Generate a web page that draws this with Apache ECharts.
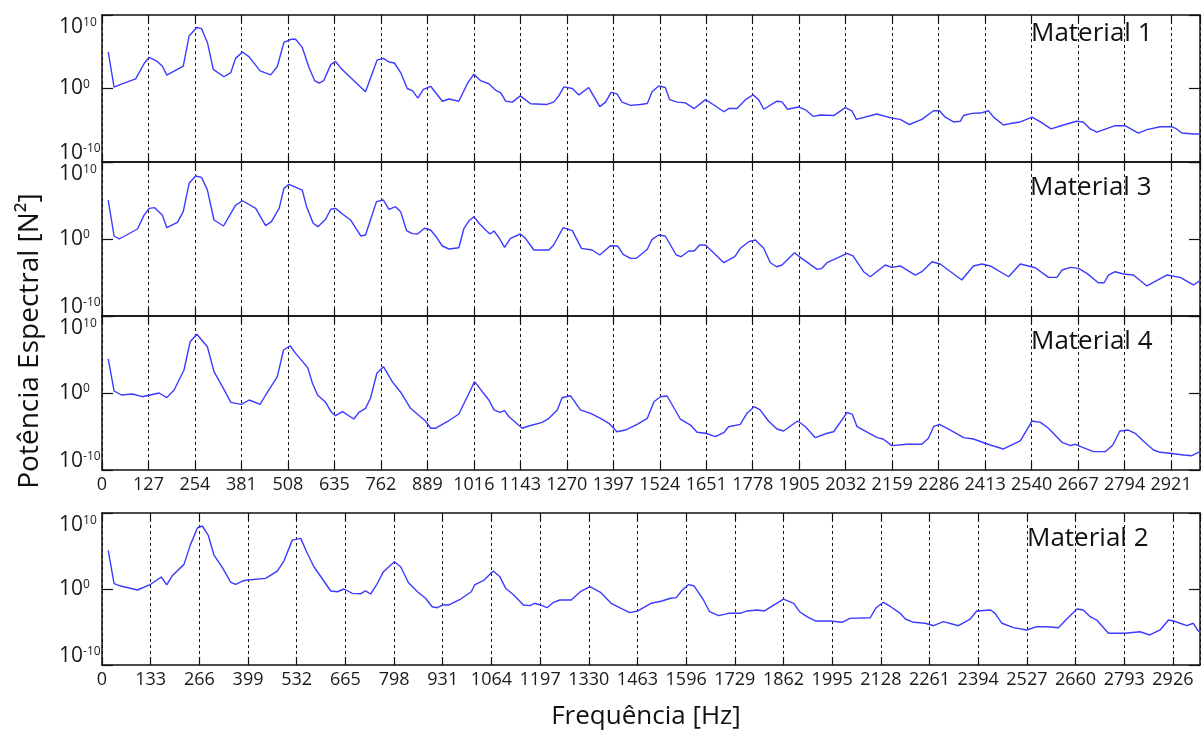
<!DOCTYPE html>
<html>
<head>
<meta charset="utf-8">
<script src="https://cdn.jsdelivr.net/npm/echarts@6/dist/echarts.min.js"></script>
<style>
html,body{margin:0;padding:0;background:#fff;}
#chart{width:1203px;height:734px;}
</style>
</head>
<body>
<div id="chart"></div>
<script>
// Each point: [frequency in Hz, log10 of spectral power in N^2]
const material1 = [[17,4.97],[33,0.2],[51,0.56],[92,1.3],[116,3.47],[129,4.25],[151,3.68],[165,3.03],[177,1.82],[222,3.03],[238,7.14],[259,8.3],[272,8.14],[288,6.27],[304,2.6],[333,1.6],[352,2.17],[365,4.1],[384,4.97],[402,4.3],[432,2.4],[461,1.86],[479,3.0],[497,6.27],[517,6.7],[529,6.7],[547,5.6],[566,2.8],[581,1.08],[593,0.74],[606,1.08],[625,3.25],[638,3.68],[652,2.8],[679,1.5],[720,-0.43],[752,3.9],[769,4.1],[784,3.6],[799,3.47],[816,2.17],[834,0],[848,-0.3],[863,-1.3],[878,-0.13],[898,0.3],[930,-1.73],[948,-1.43],[975,-1.73],[998,0.65],[1016,1.95],[1034,1.08],[1057,0.65],[1075,-0.22],[1089,-0.56],[1103,-1.73],[1121,-1.86],[1143,-1.0],[1171,-2.08],[1216,-2.17],[1234,-1.86],[1248,-1.0],[1262,0.22],[1285,0],[1303,-0.87],[1330,0.13],[1360,-2.47],[1376,-1.86],[1391,-0.52],[1407,-0.74],[1421,-1.86],[1444,-2.3],[1471,-2.17],[1490,-2.04],[1503,-0.43],[1521,0.35],[1539,0.13],[1551,-1.52],[1571,-1.86],[1594,-1.95],[1618,-2.73],[1649,-1.52],[1676,-2.38],[1699,-3.16],[1712,-2.73],[1735,-2.73],[1758,-1.52],[1779,-0.87],[1794,-1.52],[1808,-2.82],[1844,-1.73],[1858,-1.82],[1873,-2.82],[1903,-2.51],[1922,-2.9],[1944,-3.8],[1963,-3.6],[1999,-3.68],[2031,-2.6],[2049,-3.03],[2061,-4.2],[2117,-3.47],[2158,-4.03],[2181,-4.2],[2206,-4.9],[2240,-4.2],[2272,-3.03],[2288,-3.03],[2304,-3.9],[2327,-4.55],[2345,-4.46],[2354,-3.68],[2377,-3.38],[2400,-3.34],[2422,-3.03],[2436,-3.9],[2463,-4.97],[2481,-4.77],[2509,-4.55],[2541,-3.9],[2564,-4.55],[2593,-5.5],[2627,-4.97],[2663,-4.46],[2681,-4.55],[2700,-5.5],[2718,-5.93],[2768,-5.06],[2795,-5.06],[2832,-6.06],[2855,-5.6],[2891,-5.2],[2923,-5.2],[2936,-5.5],[2950,-6.06],[2982,-6.2],[3000,-6.2]];

const material3 = [[17,5.06],[33,0.39],[47,0],[97,1.3],[115,3.1],[129,3.98],[144,4.07],[165,3.1],[177,1.47],[206,2.16],[222,3.55],[238,7.23],[256,8.18],[272,8.0],[288,6.36],[306,2.47],[332,1.69],[365,4.4],[384,4.97],[420,3.98],[447,1.73],[463,2.25],[484,3.98],[497,6.58],[511,7.1],[547,6.36],[559,4.2],[577,2.04],[590,1.6],[611,2.56],[625,3.86],[638,3.98],[657,3.25],[679,2.47],[707,0.39],[720,0.52],[750,4.85],[769,5.06],[784,3.86],[802,4.2],[816,3.55],[832,1.1],[848,0.7],[862,0.65],[881,1.39],[898,1.17],[914,0.22],[930,-0.91],[948,-1.3],[975,-1.13],[989,1.39],[1003,2.38],[1016,2.9],[1030,2.04],[1048,1.17],[1060,0.65],[1071,1.04],[1084,0.22],[1100,-1.08],[1116,0.09],[1143,0.65],[1157,0.09],[1180,-1.43],[1221,-1.43],[1234,-0.78],[1260,1.47],[1285,1.08],[1310,-1.21],[1339,-1.43],[1360,-2.08],[1389,-0.87],[1409,-0.91],[1424,-1.99],[1444,-2.51],[1460,-2.51],[1490,-1.34],[1503,-0.04],[1521,0.52],[1539,0.39],[1569,-2.08],[1582,-2.3],[1603,-1.56],[1618,-1.56],[1633,-0.78],[1649,-0.78],[1699,-3.08],[1729,-2.3],[1744,-1.21],[1767,-0.35],[1785,-0.13],[1808,-1.21],[1826,-3.08],[1843,-3.6],[1858,-3.38],[1892,-1.78],[1908,-2.38],[1954,-3.94],[1967,-3.81],[1981,-3.08],[2036,-1.86],[2052,-2.2],[2081,-4.25],[2099,-4.9],[2140,-3.38],[2158,-3.68],[2181,-3.5],[2222,-4.68],[2240,-4.25],[2268,-2.95],[2290,-3.25],[2349,-5.32],[2381,-3.5],[2404,-3.25],[2427,-3.5],[2477,-4.9],[2509,-3.25],[2550,-3.73],[2586,-4.98],[2609,-4.98],[2623,-4.03],[2646,-3.68],[2668,-3.81],[2691,-4.46],[2722,-5.68],[2738,-5.68],[2750,-4.68],[2768,-4.25],[2791,-4.55],[2818,-4.68],[2855,-6.1],[2909,-4.68],[2946,-4.98],[2982,-5.97],[3000,-5.4]];

const material4 = [[17,4.42],[33,0.26],[53,-0.26],[83,-0.13],[110,-0.48],[156,0],[177,-0.6],[197,0.39],[224,2.99],[241,6.66],[259,7.62],[288,6.0],[306,2.77],[329,0.82],[352,-1.21],[381,-1.47],[402,-0.91],[432,-1.47],[447,-0.26],[479,2.12],[496,5.58],[514,6.14],[529,5.15],[562,3.29],[575,1.26],[589,-0.26],[611,-1.21],[627,-2.51],[638,-2.95],[657,-2.43],[688,-3.38],[702,-2.51],[720,-1.99],[734,-0.61],[751,2.56],[769,3.42],[793,1.47],[816,0.1],[843,-1.99],[870,-3.08],[884,-3.64],[898,-4.58],[911,-4.58],[943,-3.73],[975,-2.73],[998,-0.48],[1018,1.47],[1039,0.17],[1057,-0.91],[1071,-2.2],[1087,-2.51],[1100,-2.3],[1112,-3.08],[1148,-4.58],[1166,-4.29],[1203,-3.81],[1221,-3.29],[1244,-2.2],[1257,-0.61],[1280,-0.35],[1307,-2.2],[1335,-2.64],[1362,-3.29],[1385,-3.94],[1407,-5.03],[1430,-4.81],[1462,-4.07],[1490,-3.29],[1508,-1.13],[1526,-0.48],[1544,-0.39],[1580,-3.38],[1608,-4.16],[1626,-5.1],[1649,-5.23],[1676,-5.67],[1700,-5.1],[1712,-4.38],[1744,-4.07],[1762,-2.64],[1782,-1.78],[1798,-2.2],[1821,-3.64],[1844,-4.68],[1862,-4.94],[1885,-4.16],[1901,-3.64],[1922,-4.38],[1949,-5.8],[1981,-5.23],[1999,-5.03],[2036,-2.51],[2050,-2.77],[2063,-4.38],[2118,-5.8],[2134,-5.97],[2158,-6.84],[2199,-6.66],[2240,-6.66],[2258,-5.88],[2272,-4.38],[2288,-4.07],[2318,-4.81],[2354,-5.8],[2381,-5.97],[2413,-6.53],[2427,-6.75],[2463,-7.27],[2509,-6.23],[2541,-3.64],[2564,-3.81],[2586,-4.58],[2623,-6.4],[2646,-6.84],[2659,-6.66],[2681,-7.1],[2709,-7.62],[2741,-7.62],[2762,-6.75],[2781,-4.94],[2804,-4.81],[2823,-5.23],[2845,-6.23],[2873,-7.4],[2891,-7.7],[2918,-7.83],[2955,-8.05],[2978,-8.14],[3000,-7.62]];

const material2 = [[17,5.09],[33,0.7],[51,0.39],[97,-0.13],[133,0.62],[162,1.58],[177,0.53],[192,1.75],[224,3.24],[242,5.87],[261,8.06],[274,8.29],[290,7.1],[306,4.47],[329,2.8],[352,0.88],[365,0.62],[384,1.05],[397,1.18],[447,1.4],[479,2.36],[497,3.68],[520,6.43],[543,6.66],[559,4.9],[579,2.93],[606,1.05],[625,-0.26],[643,-0.36],[661,0],[684,-0.57],[707,-0.62],[720,-0.26],[734,-0.66],[750,0.53],[769,2.28],[799,3.59],[816,2.93],[837,0.85],[862,-0.36],[884,-1.22],[902,-2.33],[916,-2.46],[932,-2.1],[948,-2.1],[980,-1.32],[1009,-0.36],[1018,0.53],[1044,1.18],[1069,2.36],[1087,1.62],[1103,0.09],[1125,-0.79],[1143,-1.67],[1151,-2.1],[1169,-2.19],[1182,-1.88],[1198,-2.1],[1216,-2.46],[1234,-1.75],[1251,-1.45],[1282,-1.45],[1307,-0.36],[1333,0.3],[1362,-0.43],[1391,-1.88],[1421,-2.63],[1442,-3.11],[1464,-2.89],[1500,-1.88],[1530,-1.58],[1553,-1.22],[1569,-1.14],[1585,-0.17],[1603,0.58],[1618,0.39],[1642,-1.32],[1660,-2.99],[1685,-3.51],[1712,-3.2],[1744,-3.2],[1762,-2.89],[1791,-2.76],[1810,-2.89],[1862,-1.32],[1890,-1.88],[1906,-2.99],[1926,-3.64],[1949,-4.21],[1990,-4.21],[2022,-4.38],[2043,-3.86],[2099,-3.78],[2115,-2.46],[2135,-1.75],[2155,-2.33],[2181,-3.2],[2195,-3.95],[2217,-4.38],[2249,-4.51],[2272,-4.83],[2299,-4.3],[2340,-4.83],[2372,-3.95],[2390,-2.89],[2428,-2.76],[2440,-3.2],[2459,-4.51],[2490,-5.09],[2527,-5.39],[2554,-4.96],[2582,-4.96],[2613,-5.09],[2636,-3.95],[2664,-2.63],[2681,-2.76],[2700,-3.64],[2718,-4.08],[2750,-5.83],[2795,-5.83],[2836,-5.62],[2863,-6.05],[2891,-5.39],[2914,-4.08],[2928,-4.21],[2964,-4.83],[2982,-4.51],[2993,-5.39],[3000,-5.7]];

const panelNames = ['Material 1', 'Material 3', 'Material 4', 'Material 2'];
const panelData = [material1, material3, material4, material2];
const xTickInterval = [127, 127, 127, 133];
const xLabelsShown = [false, false, true, true];
const freqMin = 0, freqMax = 3000;
const powMin = 1e-10, powMax = 1e10;

const FONT = '"Open Sans", "DejaVu Sans", sans-serif';
const grids = [
  {left: 102, top: 8, width: 1098, height: 154},
  {left: 102, top: 162, width: 1098, height: 154},
  {left: 102, top: 316, width: 1098, height: 154},
  {left: 102, top: 513, width: 1098, height: 152}
];
const lineBlack = {color: '#111', width: 1.5};

const xAxes = [], yAxes = [], series = [], graphics = [];
const titlePos = [[1031, 34], [1030, 188], [1031, 342], [1027, 539]];

grids.forEach((g, i) => {
  const common = {
    gridIndex: i, type: 'value', min: freqMin, max: freqMax, interval: xTickInterval[i],
    axisLine: {show: true, onZero: false, lineStyle: lineBlack},
    axisTick: {show: true, inside: true, length: 8, lineStyle: {color: '#111', width: 1.2}}
  };
  xAxes.push(Object.assign({}, common, {
    position: 'bottom',
    axisLabel: {show: xLabelsShown[i], margin: 6, fontSize: 18, fontFamily: FONT, color: '#1a1a1a', showMaxLabel: false,
      formatter: v => (v >= freqMax ? '' : String(v))},
    splitLine: {show: true, lineStyle: {color: '#111', width: 1, type: [3, 3]}}
  }));
  xAxes.push(Object.assign({}, common, {
    position: 'top', axisLabel: {show: false}, splitLine: {show: false}
  }));
  const ycommon = {
    gridIndex: i, type: 'log', logBase: 10, min: powMin, max: powMax, splitNumber: 2,
    axisLine: {show: true, onZero: false, lineStyle: lineBlack},
    axisTick: {show: true, inside: true, length: 11, lineStyle: {color: '#111', width: 1.2}},
    splitLine: {show: false}
  };
  yAxes.push(Object.assign({}, ycommon, {
    position: 'left',
    axisLabel: {
      show: true, align: 'left', margin: 43, fontFamily: FONT, color: '#1a1a1a',
      formatter: v => {
        const e = Math.round(Math.log10(v));
        if (e > 0) return '{sp| }\n{b|10}{s|' + e + '}';
        if (e < 0) return '{b|10}{s|' + e + '}\n{sp2| }';
        return '{b|10}{s|' + e + '}';
      },
      rich: {
        b: {fontSize: 21, fontFamily: FONT, color: '#1a1a1a', lineHeight: 20},
        s: {fontSize: 12, fontFamily: FONT, color: '#1a1a1a', lineHeight: 20, verticalAlign: 'top'},
        sp: {fontSize: 10, lineHeight: 24},
        sp2: {fontSize: 10, lineHeight: 18}
      }
    }
  }));
  yAxes.push(Object.assign({}, ycommon, {position: 'right', axisLabel: {show: false}}));
  series.push({
    type: 'line', xAxisIndex: 2 * i, yAxisIndex: 2 * i, showSymbol: false, symbol: 'none',
    lineStyle: {color: '#3b3bff', width: 1.4}, animation: false, silent: true,
    data: panelData[i].map(p => [p[0], Math.pow(10, p[1])])
  });
  graphics.push({
    type: 'text', x: titlePos[i][0], y: titlePos[i][1],
    style: {text: panelNames[i], font: '26px ' + FONT, fill: '#111', textAlign: 'left', textVerticalAlign: 'middle'}
  });
});

graphics.push({
  type: 'text', x: 30, y: 341, rotation: Math.PI / 2,
  style: {text: 'Potência Espectral [N²]', font: '28px ' + FONT, fill: '#111', textAlign: 'center', textVerticalAlign: 'middle'}
});
graphics.push({
  type: 'text', x: 646, y: 717,
  style: {text: 'Frequência [Hz]', font: '26px ' + FONT, fill: '#111', textAlign: 'center', textVerticalAlign: 'middle'}
});

const chart = echarts.init(document.getElementById('chart'), null, {renderer: 'canvas'});
chart.setOption({
  animation: false,
  backgroundColor: '#fff',
  grid: grids,
  xAxis: xAxes,
  yAxis: yAxes,
  series: series,
  graphic: graphics
});
</script>
</body>
</html>
